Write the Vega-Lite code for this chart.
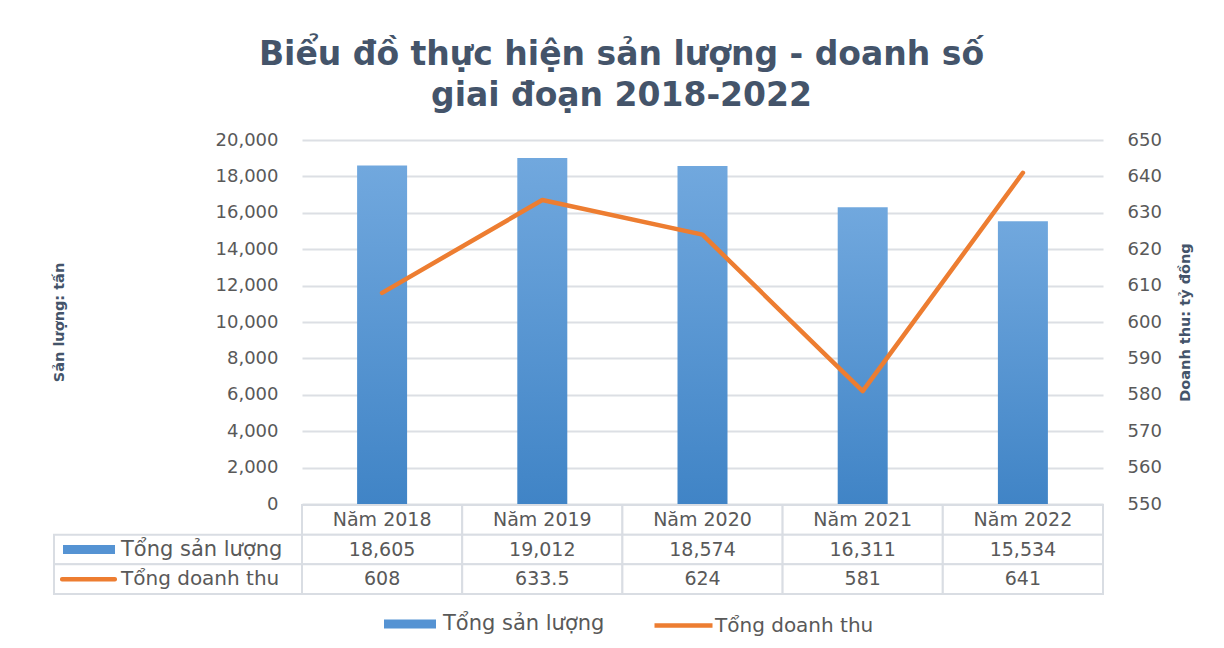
{
  "$schema": "https://vega.github.io/schema/vega-lite/v6.json",
  "width": 801,
  "height": 454,
  "autosize": {"type": "none"},
  "padding": {"left": 302, "top": 140, "right": 121, "bottom": 54},
  "background": "white",
  "config": {"view": {"stroke": null}, "font": "DejaVu Sans"},
  "title": {
    "text": ["Biểu đồ thực hiện sản lượng - doanh số", "giai đoạn 2018-2022"],
    "font": "DejaVu Sans",
    "fontSize": 33,
    "fontWeight": "bold",
    "color": "#44546a",
    "frame": "group",
    "anchor": "middle",
    "dx": -81,
    "offset": 18,
    "lineHeight": 41
  },
  "data": {
    "values": [
      {"year": "Năm 2018", "sl": 18605, "dt": 608},
      {"year": "Năm 2019", "sl": 19012, "dt": 633.5},
      {"year": "Năm 2020", "sl": 18574, "dt": 624},
      {"year": "Năm 2021", "sl": 16311, "dt": 581},
      {"year": "Năm 2022", "sl": 15534, "dt": 641}
    ]
  },
  "resolve": {"scale": {"x": "independent", "y": "independent"}},
  "layer": [
    {
      "resolve": {"scale": {"y": "independent"}},
      "encoding": {
        "x": {"field": "year", "type": "nominal", "sort": null, "axis": null,
              "scale": {"paddingInner": 0, "paddingOuter": 0}}
      },
      "layer": [
        {
          "mark": {
            "type": "bar",
            "size": 50,
            "color": {
              "gradient": "linear", "x1": 0, "y1": 0, "x2": 0, "y2": 1,
              "stops": [{"offset": 0, "color": "#71a8de"}, {"offset": 1, "color": "#4084c6"}]
            }
          },
          "encoding": {
            "y": {
              "field": "sl", "type": "quantitative",
              "scale": {"domain": [0, 20000], "range": [364, 0], "nice": false},
              "axis": {
                "values": [0, 2000, 4000, 6000, 8000, 10000, 12000, 14000, 16000, 18000, 20000],
                "format": ",.0f",
                "labelFont": "DejaVu Sans", "labelFontSize": 18, "labelColor": "#595959",
                "labelPadding": 24, "ticks": false, "domain": false,
                "grid": true, "gridColor": "#dcdfe4", "gridWidth": 2,
                "title": "Sản lượng: tấn",
                "titleFont": "DejaVu Sans", "titleFontSize": 14.5, "titleFontWeight": "bold",
                "titleColor": "#44546a", "titlePadding": 149
              }
            }
          }
        },
        {
          "mark": {"type": "line", "strokeWidth": 4.5, "strokeCap": "round", "strokeJoin": "round"},
          "encoding": {
            "y": {
              "field": "dt", "type": "quantitative",
              "scale": {"domain": [550, 650], "range": [364, 0], "nice": false, "zero": false},
              "axis": {
                "orient": "right",
                "values": [550, 560, 570, 580, 590, 600, 610, 620, 630, 640, 650],
                "labelFont": "DejaVu Sans", "labelFontSize": 18, "labelColor": "#595959",
                "labelPadding": 24, "ticks": false, "domain": false, "grid": false,
                "title": "Doanh thu: tỷ đồng",
                "titleFont": "DejaVu Sans", "titleFontSize": 14.5, "titleFontWeight": "bold",
                "titleColor": "#44546a", "titleAngle": 270, "titlePadding": 31
              }
            },
            "stroke": {
              "datum": "Tổng doanh thu", "type": "nominal",
              "scale": {"domain": ["Tổng doanh thu"], "range": ["#ed7d31"]},
              "legend": {
                "orient": "none", "legendX": 350, "legendY": 454, "title": null, "padding": 0,
                "symbolType": "stroke", "symbolSize": 3364, "symbolStrokeWidth": 4.5,
                "labelFont": "DejaVu Sans", "labelFontSize": 20, "labelColor": "#595959",
                "labelOffset": 0, "labelLimit": 400
              }
            }
          }
        }
      ]
    },
    {
      "encoding": {
        "x": {"field": "year", "type": "nominal", "sort": null, "axis": null,
              "scale": {"paddingInner": 0, "paddingOuter": 0}}
      },
      "layer": [
        {
          "mark": {"type": "rect", "fill": "white", "stroke": "#d9dde3", "strokeWidth": 2},
          "encoding": {"y": {"datum": "h", "type": "nominal", "axis": null,
            "scale": {"domain": ["h", "sl", "dt"], "range": [365, 454], "paddingInner": 0, "paddingOuter": 0}}}
        },
        {
          "mark": {"type": "rect", "fill": "white", "stroke": "#d9dde3", "strokeWidth": 2},
          "encoding": {"y": {"datum": "sl", "type": "nominal", "axis": null}}
        },
        {
          "mark": {"type": "rect", "fill": "white", "stroke": "#d9dde3", "strokeWidth": 2},
          "encoding": {"y": {"datum": "dt", "type": "nominal", "axis": null}}
        },
        {
          "mark": {"type": "text", "font": "DejaVu Sans", "fontSize": 19, "color": "#595959"},
          "encoding": {"y": {"datum": "h", "type": "nominal", "axis": null},
                       "text": {"field": "year"}}
        },
        {
          "mark": {"type": "text", "font": "DejaVu Sans", "fontSize": 19, "color": "#595959"},
          "encoding": {"y": {"datum": "sl", "type": "nominal", "axis": null},
                       "text": {"field": "sl", "type": "quantitative", "format": ","}}
        },
        {
          "mark": {"type": "text", "font": "DejaVu Sans", "fontSize": 19, "color": "#595959"},
          "encoding": {"y": {"datum": "dt", "type": "nominal", "axis": null},
                       "text": {"field": "dt", "type": "quantitative", "format": ","}}
        }
      ]
    },
    {
      "data": {"values": [
        {"row": "sl", "label": "Tổng sản lượng"},
        {"row": "dt", "label": "Tổng doanh thu"}
      ]},
      "encoding": {
        "x": {"datum": "c", "type": "nominal", "axis": null,
              "scale": {"domain": ["c"], "range": [-248, 0], "paddingInner": 0, "paddingOuter": 0}},
        "y": {"field": "row", "type": "nominal", "axis": null,
              "scale": {"domain": ["h", "sl", "dt"], "range": [365, 454], "paddingInner": 0, "paddingOuter": 0}}
      },
      "layer": [
        {"mark": {"type": "rect", "fill": "white", "stroke": "#d9dde3", "strokeWidth": 2}},
        {
          "transform": [{"filter": "datum.row === 'sl'"}],
          "mark": {"type": "rect", "width": 52, "height": 9, "xOffset": -89},
          "encoding": {
            "fill": {
              "datum": "Tổng sản lượng", "type": "nominal",
              "scale": {"domain": ["Tổng sản lượng"], "range": ["#5593d3"]},
              "legend": {
                "orient": "none", "legendX": 82, "legendY": 458, "title": null, "padding": 0,
                "symbolType": "M-1,-0.173H1V0.173H-1Z", "symbolSize": 2704, "symbolStrokeWidth": 0,
                "labelFont": "DejaVu Sans", "labelFontSize": 21, "labelColor": "#595959",
                "labelOffset": 7, "labelLimit": 400
              }
            }
          }
        },
        {
          "transform": [{"filter": "datum.row === 'dt'"}],
          "mark": {"type": "rect", "width": 57, "height": 4.5, "xOffset": -89.5, "cornerRadius": 2, "fill": "#ed7d31"}
        },
        {
          "transform": [{"filter": "datum.row === 'sl'"}],
          "mark": {"type": "text", "align": "left", "dx": -57, "font": "DejaVu Sans", "fontSize": 21, "color": "#595959"},
          "encoding": {"text": {"field": "label"}}
        },
        {
          "transform": [{"filter": "datum.row === 'dt'"}],
          "mark": {"type": "text", "align": "left", "dx": -57, "font": "DejaVu Sans", "fontSize": 20, "color": "#595959"},
          "encoding": {"text": {"field": "label"}}
        }
      ]
    }
  ]
}
